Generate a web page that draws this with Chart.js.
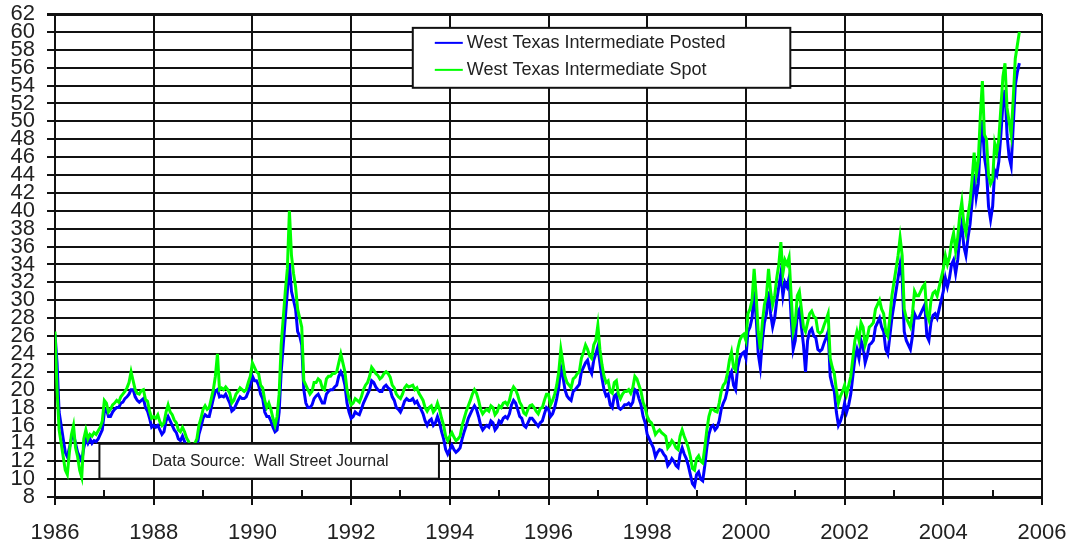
<!DOCTYPE html>
<html>
<head>
<meta charset="utf-8">
<script src="https://cdn.jsdelivr.net/npm/chart.js@4.4.1/dist/chart.umd.min.js"></script>
<style>
  html, body { margin: 0; padding: 0; background: #fff; }
  #wrap { width: 1073px; height: 546px; }
</style>
</head>
<body>
<div id="wrap"><canvas id="oil_price_chart" width="1073" height="546"></canvas></div>
<script>
(function() {
  // readings taken on the 1st and the 16th of every month, starting Jan 1986
  const START_YEAR = 1986;
  const POINTS_PER_YEAR = 24;

  const SERIES_LABELS = ['West Texas Intermediate Posted', 'West Texas Intermediate Spot'];
  const SOURCE_NOTE = 'Data Source:  Wall Street Journal';

  const X_TICKS = [1986, 1988, 1990, 1992, 1994, 1996, 1998, 2000, 2002, 2004, 2006];
  const X_MINOR_TICKS = [1987, 1989, 1991, 1993, 1995, 1997, 1999, 2001, 2003, 2005];
  const Y_TICKS = [8, 10, 12, 14, 16, 18, 20, 22, 24, 26, 28, 30, 32, 34, 36, 38, 40,
    42, 44, 46, 48, 50, 52, 54, 56, 58, 60, 62];

  const POSTED = [
    26.2,23.0,17.5,16.0,14.5,13.0,12.5,13.5,14.5,15.0,14.0,13.0,12.5,12.0,13.5,14.5,14.0,14.5,14.0,14.3,14.2,14.5,15.0,15.5,
    17.5,17.8,17.0,17.0,17.5,17.8,18.0,18.0,18.5,18.6,19.0,19.2,19.5,20.0,20.0,19.2,18.8,18.6,18.8,19.0,18.0,17.6,16.8,15.8,
    16.0,15.8,16.0,15.5,15.0,15.3,16.5,17.0,16.5,16.0,15.5,15.2,14.5,14.3,14.8,14.2,13.5,13.0,12.5,12.6,13.0,13.5,15.0,15.8,
    16.8,17.2,17.0,17.0,18.0,19.0,19.8,20.0,19.2,19.3,19.2,19.5,19.0,18.5,17.6,17.8,18.3,18.8,19.2,19.0,19.0,19.2,19.8,20.5,
    21.5,21.0,21.0,20.5,19.5,19.0,17.5,17.0,17.0,16.5,15.8,15.3,15.5,17.5,22.0,25.0,28.0,31.0,34.0,31.0,30.0,29.0,26.5,26.0,
    25.0,20.0,18.5,18.0,18.0,18.3,19.0,19.3,19.5,19.0,18.5,18.5,19.5,19.8,20.0,20.0,20.3,20.5,21.5,22.0,21.5,20.5,18.5,17.5,
    16.8,17.0,17.5,17.3,17.2,17.8,18.5,19.0,19.5,20.0,21.0,20.8,20.3,20.0,19.8,19.8,20.3,20.5,20.2,20.0,19.2,18.8,18.0,17.8,
    17.5,18.0,18.7,19.0,18.8,18.8,19.0,18.5,18.7,18.2,17.8,17.3,16.5,16.0,16.5,16.7,16.0,16.3,17.0,16.3,15.3,14.5,13.3,12.8,
    13.3,13.8,13.3,13.0,13.2,13.5,14.5,15.3,16.0,16.8,17.3,17.8,18.2,17.8,17.0,16.0,15.5,15.8,16.0,15.8,16.5,16.3,15.5,15.8,
    16.5,16.3,16.8,17.0,16.8,17.3,18.3,18.8,18.5,17.8,17.0,16.8,16.0,15.8,16.3,16.8,16.8,16.5,16.2,15.9,16.3,16.5,17.3,18.0,
    17.8,17.0,17.3,18.0,19.0,20.3,22.5,21.5,20.0,19.3,19.0,18.8,19.8,20.0,20.3,20.6,22.0,22.5,23.0,23.3,22.3,21.8,23.3,24.0,
    24.8,23.0,21.3,20.0,19.3,19.5,18.3,18.0,19.3,19.5,18.0,17.8,18.0,18.3,18.3,18.5,18.2,18.6,20.0,19.8,19.0,18.3,17.0,16.3,
    15.0,14.5,14.0,13.5,12.5,13.0,13.3,13.2,12.8,12.5,11.5,11.8,12.3,12.0,11.5,11.3,12.8,13.5,12.8,12.3,11.5,10.5,9.5,9.2,
    10.5,10.8,10.0,9.8,11.5,13.5,15.0,15.8,16.0,15.5,15.8,16.5,17.8,18.5,19.0,20.0,21.5,22.0,20.5,20.0,22.5,23.5,24.0,24.2,
    23.5,26.5,27.0,28.0,31.0,28.0,24.0,22.5,25.5,27.5,28.5,31.0,28.5,27.0,28.0,30.0,31.5,33.0,30.5,32.0,31.5,32.5,28.0,24.5,
    25.5,28.5,29.0,27.0,25.0,22.0,25.5,26.5,26.8,26.0,25.8,24.5,24.3,24.5,25.2,25.8,26.5,21.5,20.5,19.8,17.5,16.0,16.5,17.3,
    18.5,17.5,18.3,19.5,21.5,23.5,24.5,23.5,25.5,24.8,23.0,23.8,25.0,25.2,25.5,27.0,27.5,28.0,27.0,26.5,24.5,24.0,26.0,28.0,
    29.5,31.0,32.5,34.0,32.5,26.5,25.5,25.0,24.5,26.0,28.5,28.0,28.0,28.5,29.0,29.5,26.0,25.5,27.5,28.3,28.5,28.0,29.0,30.0,
    31.0,32.5,31.5,32.5,34.0,34.5,33.0,34.5,37.0,38.5,36.0,35.0,37.0,38.5,41.0,44.0,41.5,43.0,47.5,50.0,46.0,44.5,40.5,39.0,
    40.5,44.5,44.0,45.5,48.5,52.0,53.5,48.5,46.0,45.0,49.5,54.0,55.5,56.5
  ];

  const SPOT = [
    26.5,20.0,15.5,14.0,12.5,11.0,10.5,13.0,15.0,16.0,13.5,12.5,11.0,10.2,14.5,15.5,14.5,15.0,14.8,15.2,15.0,15.4,15.8,16.5,
    18.8,18.5,17.5,17.8,18.3,18.5,18.8,18.6,19.2,19.5,19.8,20.2,20.8,22.0,21.0,20.0,19.6,19.5,19.9,20.0,18.9,18.7,17.6,16.8,
    17.0,16.8,17.2,16.4,16.0,16.3,17.5,18.3,17.5,17.2,16.6,16.3,15.5,15.3,15.8,15.3,14.6,14.2,13.5,13.6,14.0,14.5,16.0,16.8,
    17.8,18.2,17.8,18.0,19.0,20.0,21.5,24.0,20.0,20.2,20.0,20.3,20.0,19.6,18.5,18.8,19.5,19.8,20.2,20.0,19.8,20.0,20.8,21.5,
    23.0,22.5,22.0,21.8,20.5,20.2,18.8,18.0,18.5,17.8,16.8,16.0,17.0,19.5,25.0,28.0,31.0,33.5,40.0,35.0,33.0,31.5,29.0,28.0,
    27.0,21.0,20.5,20.0,19.5,19.8,20.8,20.8,21.2,21.0,20.2,20.0,21.2,21.5,21.5,21.8,21.8,22.0,23.0,24.0,23.0,22.0,20.0,19.0,
    18.3,18.5,19.0,18.8,18.6,19.2,20.0,20.5,20.8,21.5,22.5,22.2,21.8,21.6,21.2,21.4,21.8,22.0,21.8,21.4,20.5,20.2,19.5,19.2,
    19.0,19.5,20.2,20.5,20.3,20.4,20.5,20.0,20.2,19.6,19.2,18.8,18.0,17.6,18.0,18.2,17.5,17.8,18.5,17.8,16.8,16.0,14.8,14.3,
    14.8,15.2,14.7,14.3,14.5,14.8,16.0,16.8,17.6,18.2,18.8,19.5,20.0,19.6,18.8,17.8,17.3,17.6,17.8,17.6,18.2,18.0,17.2,17.5,
    18.2,18.0,18.5,18.6,18.3,18.8,19.8,20.3,20.0,19.4,18.6,18.2,17.4,17.2,17.8,18.2,18.3,18.0,17.6,17.3,17.9,18.0,18.8,19.5,
    19.5,18.3,18.8,19.5,20.5,22.0,24.5,23.0,21.5,20.8,20.5,20.2,21.2,21.4,21.8,22.0,23.5,24.2,25.0,24.5,23.8,23.5,25.0,25.5,
    27.2,24.5,22.8,21.5,20.8,21.0,19.8,19.6,20.8,21.0,19.5,19.0,19.5,19.8,19.8,20.0,19.6,20.2,21.5,21.2,20.5,19.8,18.6,18.0,
    17.0,16.5,16.3,15.8,15.0,15.3,15.5,15.2,15.0,14.8,13.5,13.8,14.3,14.0,13.5,13.3,14.8,15.5,14.8,14.2,13.5,12.5,11.2,11.0,
    12.3,12.6,12.0,11.8,13.5,15.5,17.0,17.8,17.8,17.6,17.5,18.5,19.8,20.5,20.8,21.8,23.3,24.2,22.5,22.2,24.5,25.5,26.0,26.2,
    25.5,28.5,29.0,30.0,33.5,30.5,26.5,24.5,27.5,29.5,30.5,33.5,31.0,29.5,30.5,32.5,34.0,36.5,33.0,34.5,34.0,34.8,30.5,26.5,
    27.5,30.5,31.0,29.0,27.0,26.5,27.5,28.5,28.8,28.2,28.0,26.5,26.3,26.5,27.2,27.8,28.5,23.5,22.5,21.8,20.0,18.5,19.3,19.8,
    20.5,19.5,20.5,21.5,23.5,25.5,26.5,25.5,27.5,27.0,25.0,25.8,27.0,27.2,27.5,29.0,29.5,30.0,29.0,28.5,26.5,26.0,28.0,30.5,
    32.0,33.5,35.0,37.0,35.0,29.0,28.0,27.5,27.0,28.5,31.0,30.5,30.5,31.0,31.5,31.8,28.5,27.8,30.0,30.8,31.0,30.5,31.5,32.5,
    33.5,35.0,34.0,34.8,36.5,37.5,35.5,37.0,39.5,41.0,38.5,37.5,39.5,41.0,43.5,46.5,44.0,45.5,50.5,54.5,48.5,48.0,44.0,43.0,
    43.5,47.5,46.5,48.0,51.5,55.0,56.5,51.5,50.0,48.5,52.5,57.0,58.5,60.0
  ];

  const COLORS = {
    posted: '#0000ff',
    spot: '#00ff00',
    grid: '#111111',
    text: '#222222'
  };

  function toPoints(values) {
    return values.map((v, i) => ({ x: START_YEAR + i / POINTS_PER_YEAR, y: v }));
  }

  // odd-year ticks, the note box and the boxed legend
  const extras = {
    id: 'extras',
    afterDraw(chart) {
      const ctx = chart.ctx;
      const x = chart.scales.x, y = chart.scales.y;
      const bottom = chart.chartArea.bottom;
      ctx.save();

      ctx.strokeStyle = COLORS.grid;
      ctx.lineWidth = 2;
      X_MINOR_TICKS.forEach(yr => {
        const px = Math.round(x.getPixelForValue(yr));
        ctx.beginPath();
        ctx.moveTo(px, bottom);
        ctx.lineTo(px, bottom - 7);
        ctx.stroke();
      });

      // data source note
      const nL = x.getPixelForValue(1986.9), nR = x.getPixelForValue(1993.78);
      const nT = y.getPixelForValue(13.95), nB = y.getPixelForValue(10.05);
      ctx.fillStyle = '#fff';
      ctx.fillRect(nL, nT, nR - nL, nB - nT);
      ctx.strokeRect(nL, nT, nR - nL, nB - nT);
      ctx.fillStyle = COLORS.text;
      ctx.font = '16px "Liberation Sans", Arial, sans-serif';
      ctx.textAlign = 'center';
      ctx.textBaseline = 'middle';
      ctx.fillText(SOURCE_NOTE, (nL + nR) / 2 + 1, (nT + nB) / 2);

      // legend
      const lL = x.getPixelForValue(1993.25), lR = x.getPixelForValue(2000.9);
      const lT = y.getPixelForValue(60.45), lB = y.getPixelForValue(53.75);
      ctx.fillStyle = '#fff';
      ctx.fillRect(lL, lT, lR - lL, lB - lT);
      ctx.lineWidth = 2;
      ctx.strokeRect(lL, lT, lR - lL, lB - lT);
      ctx.font = '18px "Liberation Sans", Arial, sans-serif';
      ctx.textAlign = 'left';
      const rows = [lT + 15, lT + 42];
      chart.data.datasets.forEach((ds, i) => {
        ctx.strokeStyle = ds.borderColor;
        ctx.lineWidth = 2;
        ctx.beginPath();
        ctx.moveTo(lL + 22, rows[i]);
        ctx.lineTo(lL + 50, rows[i]);
        ctx.stroke();
        ctx.fillStyle = COLORS.text;
        ctx.fillText(ds.label, lL + 54, rows[i]);
      });
      ctx.restore();
    }
  };

  new Chart(document.getElementById('oil_price_chart').getContext('2d'), {
    type: 'line',
    data: {
      datasets: [
        {
          label: SERIES_LABELS[0],
          data: toPoints(POSTED),
          borderColor: COLORS.posted,
          borderWidth: 3,
          pointRadius: 0,
          tension: 0,
          order: 2
        },
        {
          label: SERIES_LABELS[1],
          data: toPoints(SPOT),
          borderColor: COLORS.spot,
          borderWidth: 3,
          pointRadius: 0,
          tension: 0,
          order: 1
        }
      ]
    },
    options: {
      responsive: false,
      animation: false,
      layout: { padding: { top: 14, right: 31, left: 0, bottom: 0 } },
      plugins: {
        legend: { display: false },
        tooltip: { enabled: false }
      },
      scales: {
        x: {
          type: 'linear',
          min: 1986,
          max: 2006,
          afterBuildTicks: s => { s.ticks = X_TICKS.map(v => ({ value: v })); },
          afterFit: s => { s.height = 49; s.paddingLeft = 0; s.paddingRight = 0; },
          grid: { color: COLORS.grid, lineWidth: 2, tickLength: 8 },
          border: { color: COLORS.grid, width: 3 },
          ticks: {
            color: COLORS.text,
            padding: 15,
            maxRotation: 0,
            autoSkip: false,
            font: { family: '"Liberation Sans", Arial, sans-serif', size: 22 },
            callback: v => String(v)
          }
        },
        y: {
          min: 8,
          max: 62,
          afterBuildTicks: s => { s.ticks = Y_TICKS.map(v => ({ value: v })); },
          afterFit: s => { s.width = 55; s.paddingTop = 0; s.paddingBottom = 0; },
          grid: {
            color: COLORS.grid,
            lineWidth: c => (c.tick && c.tick.value === 62 ? 3 : 2),
            tickLength: 8
          },
          border: { color: COLORS.grid, width: 2 },
          ticks: {
            color: COLORS.text,
            padding: 12,
            autoSkip: false,
            font: { family: '"Liberation Sans Narrow", "Liberation Sans", Arial, sans-serif', size: 22 },
            callback: v => String(v)
          }
        }
      }
    },
    plugins: [extras]
  });
})();
</script>
</body>
</html>
